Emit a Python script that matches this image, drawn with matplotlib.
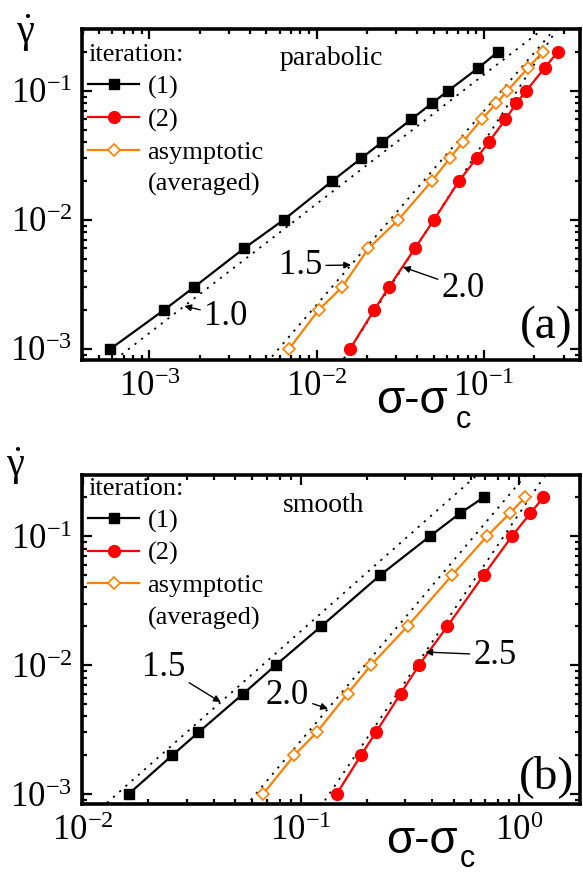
import numpy as np
import matplotlib
matplotlib.use('Agg')
import matplotlib.pyplot as plt
from matplotlib.lines import Line2D
from matplotlib.ticker import LogLocator, NullFormatter

plt.rcParams['font.family'] = ['Liberation Serif', 'DejaVu Serif']
plt.rcParams['mathtext.fontset'] = 'custom'
plt.rcParams['mathtext.rm'] = 'Liberation Serif'
plt.rcParams['mathtext.it'] = 'Liberation Serif:italic'
plt.rcParams['mathtext.bf'] = 'Liberation Serif:bold'
plt.rcParams['mathtext.default'] = 'rm'

# ---------------- data: panel (a) parabolic ----------------
y_a = [1e-3, 2e-3, 3e-3, 6e-3, 1e-2, 2e-2, 3e-2, 4e-2, 6e-2, 8e-2, 0.1, 0.15, 0.2]
x_a_iter1 = [5.83e-4, 1.22e-3, 1.84e-3, 3.67e-3, 6.35e-3, 1.24e-2, 1.85e-2,
             2.46e-2, 3.68e-2, 4.89e-2, 6.13e-2, 9.25e-2, 0.1216]
x_a_iter2 = [0.01583, 0.02206, 0.0270, 0.03864, 0.0503, 0.0710, 0.0905,
             0.1071, 0.1346, 0.1565, 0.1795, 0.2307, 0.2769]
x_a_asym = [6.83e-3, 1.026e-2, 1.415e-2, 2.04e-2, 3.08e-2, 4.88e-2, 6.27e-2,
            7.47e-2, 9.69e-2, 0.119, 0.1384, 0.1835, 0.2254]
fit_a_slopes = [1.0, 1.5, 2.0]
fit_a_pref = [1.33, 2.2, 4.0]
fit_a_label_y = [2.15e-3, 4.47e-3, 4.31e-3]
fit_a_labels = ['1.0', '1.5', '2.0']

# ---------------- data: panel (b) smooth ----------------
y_b = [1e-3, 2e-3, 3e-3, 6e-3, 1e-2, 2e-2, 5e-2, 0.1, 0.15, 0.2]
x_b_iter1 = [0.01627, 0.0258, 0.0339, 0.0545, 0.0768, 0.124, 0.2314, 0.3903, 0.5346, 0.6877]
x_b_iter2 = [0.1458, 0.1885, 0.2203, 0.2861, 0.3477, 0.4685, 0.6878, 0.9262, 1.122, 1.29]
x_b_asym = [0.0671, 0.0934, 0.118, 0.1636, 0.2096, 0.3078, 0.4937, 0.7126, 0.9032, 1.065]
fit_b_slopes = [1.5, 2.0, 2.5]
fit_b_pref = [0.58, 0.259, 0.15]
fit_b_label_y = [5.16e-3, 4.58e-3, 1.262e-2]
fit_b_labels = ['1.5', '2.0', '2.5']

legend_labels = ['(1)', '(2)', 'asymptotic', '(averaged)']

BLACK = '#000000'
RED = '#ff0000'
ORANGE = '#ff8000'

fig = plt.figure(figsize=(5.83, 8.75), dpi=100)
ax1 = fig.add_axes([0.1407, 0.5886, 0.8542, 0.3777])
ax2 = fig.add_axes([0.1407, 0.0811, 0.8542, 0.3764])


def style_axes(ax, xlim, ylim):
    ax.set_xscale('log')
    ax.set_yscale('log')
    ax.set_xlim(*xlim)
    ax.set_ylim(*ylim)
    ax.set_autoscale_on(False)
    for s in ax.spines.values():
        s.set_linewidth(2.6)
    ax.xaxis.set_major_locator(LogLocator(base=10, numticks=20))
    ax.yaxis.set_major_locator(LogLocator(base=10, numticks=20))
    ax.xaxis.set_minor_locator(LogLocator(base=10, subs=np.arange(2, 10), numticks=40))
    ax.yaxis.set_minor_locator(LogLocator(base=10, subs=np.arange(2, 10), numticks=40))
    ax.xaxis.set_minor_formatter(NullFormatter())
    ax.yaxis.set_minor_formatter(NullFormatter())
    ax.tick_params(which='both', direction='in', top=True, right=True,
                   width=1.6, labelsize=25)
    ax.tick_params(which='major', length=7.5)
    ax.tick_params(which='minor', length=3.8)
    ax.tick_params(axis='x', pad=8)
    ax.tick_params(axis='y', pad=7)


def draw_panel(ax, y, x1, x2, xa, slopes, prefs, lab_y, labs, lab_pos):
    # guide power laws
    xl = np.array(ax.get_xlim())
    for s, k in zip(slopes, prefs):
        ax.plot(xl, k * xl ** s, color='black', lw=1.3, ls=(0, (1.2, 3.4)), zorder=2)
    ax.plot(x1, y, color=BLACK, lw=1.6, marker='s', ms=7.8, zorder=3)
    ax.plot(x2, y, color=RED, lw=1.6, marker='o', ms=8.5, zorder=3)
    ax.plot(xa, y, color=ORANGE, lw=1.6, marker='D', ms=6.3, mfc='white',
            mec=ORANGE, mew=1.2, zorder=4)
    for s, k, yy, lab, pos in zip(slopes, prefs, lab_y, labs, lab_pos):
        xx = (yy / k) ** (1.0 / s)
        ax.annotate(lab, xy=(xx, yy), xytext=pos, textcoords='axes fraction',
                    ha='center', va='center', fontsize=25,
                    arrowprops=dict(arrowstyle='-|>', color='black', lw=1.0,
                                    mutation_scale=10, shrinkA=1, shrinkB=0))


def add_legend(ax, anchor):
    handles = [
        Line2D([], [], color=BLACK, lw=1.6, marker='s', ms=7.8),
        Line2D([], [], color=RED, lw=1.6, marker='o', ms=8.5),
        Line2D([], [], color=ORANGE, lw=1.6, marker='D', ms=6.3, mfc='white', mec=ORANGE, mew=1.2),
        Line2D([], [], ls='none', marker=None),
    ]
    leg = ax.legend(handles, legend_labels, title='iteration:', loc='upper left',
                    bbox_to_anchor=anchor, frameon=False, fontsize=19,
                    title_fontsize=19, handlelength=1.95, handletextpad=0.3,
                    labelspacing=0.33, borderpad=0.0, borderaxespad=0.0,
                    alignment='left')
    leg.set_zorder(2)
    return leg


style_axes(ax1, (3.95e-4, 0.376), (8.22e-4, 0.298))
style_axes(ax2, (0.00995, 1.897), (8.36e-4, 0.2995))

draw_panel(ax1, y_a, x_a_iter1, x_a_iter2, x_a_asym, fit_a_slopes, fit_a_pref,
           fit_a_label_y, fit_a_labels, [(0.289, 0.133), (0.438, 0.285), (0.766, 0.217)])
draw_panel(ax2, y_b, x_b_iter1, x_b_iter2, x_b_asym, fit_b_slopes, fit_b_pref,
           fit_b_label_y, fit_b_labels, [(0.1637, 0.416), (0.4116, 0.331), (0.830, 0.4525)])

add_legend(ax1, (0.012, 0.955))
add_legend(ax2, (0.012, 0.99))

ax1.text(0.5, 0.8926, 'parabolic', transform=ax1.transAxes, ha='center',
         va='baseline', fontsize=20)
ax2.text(0.485, 0.8867, 'smooth', transform=ax2.transAxes, ha='center',
         va='baseline', fontsize=20)
ax1.text(0.932, 0.0998, '(a)', transform=ax1.transAxes, ha='center', va='center', fontsize=34)
ax2.text(0.932, 0.082, '(b)', transform=ax2.transAxes, ha='center', va='center', fontsize=34)

W, H = 583.0, 875.0
# x labels
fig.text(376 / W, 1 - 413 / H, 'σ-σ', fontfamily='Liberation Sans', fontsize=33,
         ha='left', va='baseline')
fig.text(456 / W, 1 - 428 / H, 'c', fontfamily='Liberation Sans', fontsize=22,
         ha='left', va='baseline')
fig.text(386 / W, 1 - 853 / H, 'σ-σ', fontfamily='Liberation Sans', fontsize=33,
         ha='left', va='baseline')
fig.text(460 / W, 1 - 867 / H, 'c', fontfamily='Liberation Sans', fontsize=22,
         ha='left', va='baseline')
# y labels
fig.text(25 / W, 1 - 33 / H, r'$\dot{\gamma}$', fontsize=29, ha='center', va='center')
fig.text(15.5 / W, 1 - 466 / H, r'$\dot{\gamma}$', fontsize=29, ha='center', va='center')

fig.savefig('out.png', dpi=100)
